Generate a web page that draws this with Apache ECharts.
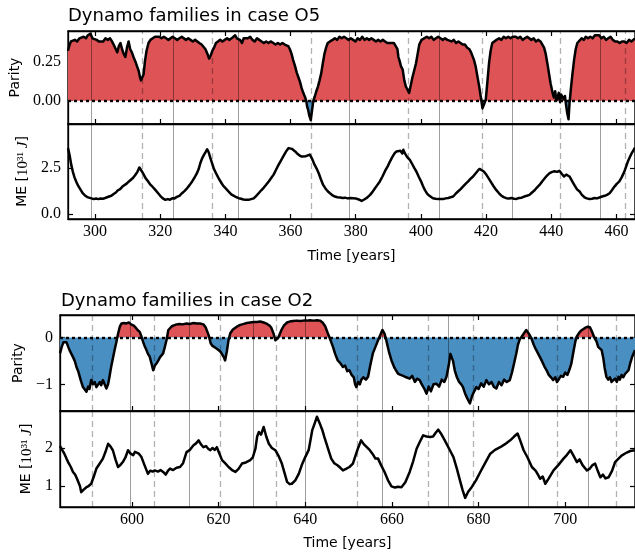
<!DOCTYPE html>
<html>
<head>
<meta charset="utf-8">
<script src="https://cdn.jsdelivr.net/npm/echarts@6/dist/echarts.min.js"></script>
<style>html,body{margin:0;padding:0;background:#fff}#c{width:635px;height:553px}</style>
</head>
<body>
<div id="c"></div>
<script>
// ---------------- DATA ----------------
const titles = ['Dynamo families in case O5', 'Dynamo families in case O2'];

const o5XRange = [291.7, 465.7];
const o2XRange = [583.4, 716.1];
const o5XTicks = [300, 320, 340, 360, 380, 400, 420, 440, 460];
const o2XTicks = [600, 620, 640, 660, 680, 700];

const o5ParityRange = [-0.15, 0.447];
const o5ParityTicks = [0, 0.25];
const o5ParityTickLabels = ['0.00', '0.25'];
const o5MERange = [-0.26, 4.9];
const o5METicks = [0, 2.5];
const o5METickLabels = ['0.0', '2.5'];

const o2ParityRange = [-1.57, 0.48];
const o2ParityTicks = [-1, 0];
const o2ParityTickLabels = ['\u22121', '0'];
const o2MERange = [0.45, 2.97];
const o2METicks = [1, 2];
const o2METickLabels = ['1', '2'];

const o5SolidLines = [298.7, 323.9, 343.8, 377.9, 405.7, 428.1, 454.9];
const o5DashedLines = [314.5, 335.9, 366.4, 396.2, 418.9, 442.9, 462.6];
const o2SolidLines = [599.5, 613.3, 628.1, 640.0, 657.7, 672.9, 691.5, 705.2];
const o2DashedLines = [590.9, 605.1, 620.4, 633.4, 651.9, 668.4, 678.7, 698.1, 711.7];

const o5Parity = [[291.7,0.32],[292.2,0.36],[292.6,0.38],[293.2,0.37],[293.8,0.39],[294.5,0.38],[295.2,0.40],[295.8,0.39],[296.5,0.41],[297.2,0.40],[297.8,0.42],[298.6,0.43],[299.2,0.40],[299.8,0.41],[300.5,0.39],[301.2,0.38],[301.8,0.39],[302.5,0.38],[303.2,0.40],[303.9,0.39],[304.6,0.40],[305.2,0.38],[305.7,0.36],[306.2,0.35],[306.8,0.31],[307.3,0.35],[307.8,0.37],[308.3,0.33],[308.8,0.30],[309.3,0.28],[309.8,0.34],[310.3,0.38],[310.8,0.33],[311.3,0.31],[311.8,0.28],[312.4,0.25],[312.9,0.22],[313.4,0.19],[313.8,0.15],[314.1,0.13],[314.5,0.14],[314.9,0.17],[315.3,0.25],[315.8,0.32],[316.4,0.37],[317.0,0.39],[317.7,0.40],[318.4,0.41],[319.0,0.40],[319.7,0.41],[320.4,0.40],[321.1,0.41],[321.8,0.40],[322.5,0.39],[323.1,0.40],[323.8,0.41],[324.5,0.40],[325.2,0.39],[325.9,0.40],[326.6,0.41],[327.2,0.40],[327.9,0.39],[328.6,0.40],[329.3,0.39],[330.0,0.38],[330.7,0.39],[331.3,0.38],[332.0,0.37],[332.7,0.36],[333.3,0.35],[333.9,0.33],[334.5,0.30],[335.0,0.27],[335.5,0.29],[336.0,0.32],[336.5,0.34],[337.1,0.37],[337.7,0.38],[338.4,0.39],[339.1,0.38],[339.8,0.39],[340.5,0.40],[341.2,0.39],[341.9,0.40],[342.5,0.41],[343.0,0.42],[343.5,0.40],[344.0,0.41],[344.5,0.39],[345.1,0.37],[345.6,0.40],[346.2,0.39],[346.9,0.40],[347.6,0.41],[348.3,0.39],[349.0,0.38],[349.7,0.40],[350.4,0.39],[351.1,0.38],[351.8,0.37],[352.5,0.38],[353.2,0.37],[353.9,0.38],[354.7,0.37],[355.4,0.36],[356.1,0.37],[356.8,0.36],[357.5,0.37],[358.2,0.36],[358.8,0.35],[359.3,0.35],[359.8,0.33],[360.3,0.30],[360.8,0.26],[361.4,0.22],[361.9,0.18],[362.4,0.15],[362.9,0.12],[363.4,0.08],[363.9,0.05],[364.4,0.025],[364.8,0.00],[365.1,-0.04],[365.4,-0.06],[365.8,-0.10],[366.2,-0.125],[366.6,-0.06],[367.0,0.0],[367.4,0.025],[367.9,0.06],[368.4,0.09],[368.9,0.13],[369.4,0.175],[369.9,0.24],[370.4,0.30],[370.9,0.34],[371.4,0.37],[372.1,0.38],[372.9,0.39],[373.6,0.40],[374.3,0.39],[375.0,0.41],[375.7,0.40],[376.4,0.41],[377.1,0.40],[377.8,0.39],[378.5,0.40],[379.2,0.39],[379.9,0.38],[380.6,0.40],[381.3,0.39],[382.0,0.41],[382.7,0.39],[383.4,0.40],[384.1,0.39],[384.8,0.40],[385.5,0.39],[386.2,0.38],[386.9,0.39],[387.6,0.38],[388.3,0.39],[389.0,0.38],[389.7,0.37],[390.3,0.38],[391.0,0.37],[391.7,0.37],[392.3,0.36],[392.8,0.33],[393.1,0.28],[393.4,0.26],[393.9,0.22],[394.4,0.20],[394.9,0.13],[395.4,0.09],[395.9,0.07],[396.4,0.05],[396.9,0.10],[397.4,0.15],[397.9,0.19],[398.5,0.24],[399.0,0.30],[399.5,0.36],[400.2,0.39],[401.0,0.40],[401.8,0.41],[402.5,0.40],[403.2,0.41],[403.9,0.39],[404.6,0.40],[405.3,0.41],[406.0,0.40],[406.7,0.39],[407.4,0.40],[408.1,0.39],[408.7,0.39],[409.4,0.38],[410.1,0.39],[410.8,0.37],[411.5,0.38],[412.1,0.37],[412.8,0.36],[413.5,0.36],[414.2,0.34],[414.9,0.33],[415.4,0.31],[415.8,0.30],[416.3,0.26],[416.8,0.22],[417.3,0.16],[417.9,0.09],[418.4,0.02],[418.9,-0.05],[419.3,-0.04],[419.9,0.005],[420.4,0.12],[420.9,0.24],[421.4,0.32],[421.9,0.37],[422.5,0.38],[423.2,0.39],[424.0,0.40],[424.7,0.39],[425.4,0.41],[426.1,0.40],[426.8,0.41],[427.5,0.40],[428.2,0.41],[429.1,0.41],[429.8,0.40],[430.5,0.41],[431.2,0.39],[431.9,0.40],[432.6,0.41],[433.2,0.40],[433.9,0.39],[434.6,0.40],[435.3,0.38],[436.0,0.39],[436.7,0.38],[437.3,0.37],[437.8,0.34],[438.3,0.30],[438.8,0.24],[439.3,0.175],[439.8,0.11],[440.4,0.05],[440.8,0.02],[441.2,0.06],[441.6,0.00],[441.9,0.015],[442.3,0.05],[442.7,-0.01],[443.0,0.04],[443.4,0.05],[443.8,0.01],[444.2,0.03],[444.5,-0.02],[444.9,-0.08],[445.3,-0.12],[445.6,-0.02],[446.0,0.07],[446.5,0.17],[447.0,0.26],[447.5,0.33],[448.0,0.37],[448.6,0.38],[449.3,0.40],[450.0,0.39],[450.6,0.41],[451.3,0.40],[452.0,0.41],[452.7,0.40],[453.4,0.42],[454.0,0.41],[454.7,0.42],[455.4,0.40],[456.1,0.41],[456.8,0.39],[457.5,0.40],[458.2,0.41],[458.9,0.39],[459.6,0.38],[460.3,0.38],[461.0,0.37],[461.7,0.38],[462.4,0.38],[463.1,0.37],[463.9,0.39],[464.6,0.38],[465.7,0.40]];

const o5ME = [[291.7,3.59],[292.2,3.2],[292.7,2.68],[293.2,2.3],[293.7,2.0],[294.2,1.78],[294.8,1.55],[295.5,1.35],[296.2,1.14],[296.9,1.02],[297.6,0.93],[298.2,0.87],[298.9,0.86],[299.6,0.82],[300.3,0.85],[301.0,0.82],[301.7,0.85],[302.4,0.84],[303.1,0.88],[303.7,0.86],[304.3,0.96],[305.0,1.0],[305.7,1.1],[306.4,1.18],[307.0,1.3],[307.7,1.36],[308.4,1.5],[309.0,1.58],[309.7,1.66],[310.4,1.78],[311.0,1.86],[311.7,1.98],[312.4,2.14],[313.0,2.3],[313.6,2.54],[314.1,2.4],[314.8,2.2],[315.5,1.96],[316.2,1.8],[316.9,1.62],[317.7,1.48],[318.5,1.32],[319.3,1.15],[320.0,1.0],[320.8,0.86],[321.6,0.78],[322.3,0.82],[323.0,0.79],[323.7,0.87],[324.4,0.86],[325.1,0.94],[325.9,1.0],[326.7,1.14],[327.5,1.27],[328.3,1.42],[329.0,1.58],[329.8,1.78],[330.5,1.98],[331.2,2.2],[331.8,2.45],[332.3,2.77],[332.9,3.05],[333.5,3.25],[334.0,3.4],[334.4,3.53],[334.9,3.35],[335.4,3.05],[335.9,2.77],[336.5,2.45],[337.2,2.2],[337.9,1.96],[338.6,1.75],[339.3,1.55],[340.1,1.4],[341.0,1.23],[341.8,1.08],[342.6,1.0],[343.4,0.92],[344.1,0.87],[344.8,0.84],[345.5,0.80],[346.3,0.78],[347.1,0.78],[347.9,0.82],[348.7,0.86],[349.4,0.98],[350.2,1.14],[351.0,1.3],[351.8,1.45],[352.5,1.6],[353.3,1.78],[354.0,1.95],[354.8,2.15],[355.5,2.4],[356.3,2.68],[357.0,2.9],[357.8,3.15],[358.6,3.4],[359.4,3.59],[359.9,3.5],[360.4,3.55],[361.0,3.45],[361.4,3.41],[362.0,3.3],[362.7,3.2],[363.4,3.13],[364.0,3.18],[364.7,3.15],[365.3,3.2],[365.9,3.24],[366.5,3.05],[367.2,2.75],[368.0,2.48],[368.7,2.2],[369.3,1.9],[370.0,1.59],[370.7,1.4],[371.4,1.25],[372.1,1.14],[372.9,1.02],[373.6,0.96],[374.4,0.92],[375.2,0.91],[376.0,0.88],[376.7,0.9],[377.5,0.86],[378.3,0.88],[379.2,0.87],[380.0,0.86],[380.9,0.8],[381.8,0.72],[382.6,0.8],[383.5,0.9],[384.4,1.05],[385.1,1.2],[385.8,1.38],[386.6,1.58],[387.4,1.78],[388.2,2.05],[389.0,2.35],[389.8,2.6],[390.5,2.86],[391.2,3.1],[391.9,3.3],[392.5,3.41],[393.1,3.35],[393.7,3.45],[394.3,3.3],[394.6,3.5],[395.1,3.3],[395.8,3.1],[396.6,2.95],[397.4,2.7],[398.0,2.5],[398.6,2.32],[399.3,2.05],[400.0,1.8],[400.6,1.55],[401.2,1.32],[401.9,1.12],[402.6,1.0],[403.2,0.92],[403.7,0.87],[404.5,0.84],[405.3,0.82],[406.0,0.83],[406.8,0.82],[407.6,0.86],[408.4,0.88],[409.1,0.92],[409.9,0.96],[410.6,1.1],[411.3,1.22],[412.1,1.35],[412.9,1.5],[413.7,1.65],[414.5,1.78],[415.2,1.92],[416.0,2.05],[416.7,2.2],[417.4,2.35],[418.0,2.46],[418.6,2.38],[419.3,2.32],[420.1,2.14],[420.8,1.95],[421.6,1.72],[422.3,1.52],[423.1,1.32],[423.9,1.15],[424.6,1.02],[425.4,0.93],[426.2,0.87],[427.0,0.85],[427.8,0.88],[428.6,0.84],[429.3,0.83],[430.1,0.88],[430.9,0.9],[431.7,0.96],[432.5,1.0],[433.3,1.05],[434.1,1.18],[434.9,1.3],[435.6,1.45],[436.4,1.59],[437.2,1.78],[438.0,1.95],[438.7,2.1],[439.5,2.23],[440.3,2.3],[441.0,2.33],[441.8,2.3],[442.5,2.36],[443.2,2.2],[443.9,2.05],[444.6,2.15],[445.2,2.1],[445.6,2.05],[446.4,1.8],[447.2,1.55],[447.9,1.35],[448.7,1.23],[449.4,1.05],[450.2,0.92],[450.9,0.86],[451.7,0.83],[452.5,0.84],[453.3,0.88],[454.1,0.86],[454.8,0.91],[455.6,0.96],[456.4,1.0],[457.1,1.05],[457.9,1.14],[458.6,1.3],[459.4,1.5],[460.1,1.65],[460.9,1.78],[461.6,2.0],[462.4,2.3],[463.0,2.6],[463.5,2.86],[464.1,3.1],[464.8,3.35],[465.7,3.62]];

const o2Parity = [[583.4,-0.34],[583.8,-0.2],[584.2,-0.1],[584.5,-0.06],[584.9,-0.1],[585.3,-0.2],[585.6,-0.27],[586.0,-0.25],[586.4,-0.42],[586.8,-0.5],[587.2,-0.63],[587.6,-0.72],[588.0,-0.85],[588.3,-0.95],[588.7,-1.06],[589.1,-1.08],[589.5,-1.16],[589.9,-1.05],[590.2,-1.1],[590.6,-0.91],[591.0,-1.0],[591.4,-0.95],[591.8,-1.06],[592.2,-1.1],[592.6,-0.95],[592.9,-1.02],[593.3,-0.91],[593.7,-1.0],[594.1,-1.09],[594.5,-1.0],[594.8,-0.85],[595.2,-0.63],[595.6,-0.45],[596.0,-0.27],[596.4,-0.1],[596.8,0.08],[597.2,0.23],[597.6,0.3],[598.2,0.31],[598.7,0.30],[599.3,0.32],[599.8,0.28],[600.3,0.26],[600.8,0.22],[601.3,0.16],[601.8,0.12],[602.2,0.02],[602.6,-0.1],[603.0,-0.2],[603.4,-0.28],[603.7,-0.35],[604.1,-0.41],[604.5,-0.55],[604.9,-0.7],[605.3,-0.6],[605.7,-0.55],[606.1,-0.49],[606.5,-0.42],[606.8,-0.45],[607.2,-0.34],[607.6,-0.2],[608.0,-0.05],[608.4,0.16],[608.8,0.2],[609.2,0.24],[609.6,0.26],[610.3,0.28],[611.0,0.29],[611.7,0.28],[612.6,0.30],[613.4,0.29],[614.2,0.31],[615.0,0.30],[615.7,0.30],[616.5,0.28],[617.0,0.22],[617.3,0.19],[617.7,0.05],[618.2,-0.13],[618.6,-0.18],[619.0,-0.2],[619.6,-0.24],[620.0,-0.27],[620.4,-0.3],[620.8,-0.34],[621.2,-0.42],[621.5,-0.49],[621.9,-0.3],[622.3,-0.05],[622.7,0.09],[623.3,0.17],[624.2,0.23],[625.0,0.27],[625.8,0.29],[626.5,0.31],[627.3,0.32],[628.1,0.33],[628.9,0.33],[629.6,0.34],[630.4,0.32],[631.2,0.29],[631.8,0.25],[632.2,0.2],[632.7,0.08],[633.1,-0.06],[633.4,-0.09],[633.8,0.0],[634.5,0.16],[635.1,0.26],[635.8,0.32],[636.4,0.34],[637.2,0.35],[638.0,0.36],[638.8,0.35],[639.6,0.36],[640.3,0.36],[641.1,0.37],[641.9,0.36],[642.7,0.37],[643.4,0.36],[644.0,0.32],[644.6,0.24],[645.2,0.09],[645.8,-0.05],[646.4,-0.2],[646.9,-0.35],[647.5,-0.49],[648.1,-0.55],[648.7,-0.63],[649.2,-0.6],[649.7,-0.72],[650.2,-0.7],[650.7,-0.8],[651.2,-0.85],[651.5,-1.0],[651.8,-1.06],[652.2,-0.95],[652.6,-1.0],[652.9,-0.91],[653.4,-0.85],[654.0,-0.9],[654.5,-0.84],[655.0,-0.6],[655.6,-0.34],[656.2,-0.2],[656.8,-0.06],[657.3,0.05],[657.8,0.16],[658.3,0.08],[658.7,-0.06],[659.3,-0.3],[659.9,-0.49],[660.6,-0.65],[661.4,-0.77],[662.0,-0.8],[662.6,-0.82],[663.3,-0.85],[664.1,-0.88],[664.7,-0.82],[665.3,-0.95],[665.8,-0.88],[666.4,-0.91],[666.9,-1.0],[667.5,-1.1],[668.0,-1.2],[668.5,-1.05],[669.0,-1.15],[669.6,-1.0],[670.3,-0.99],[670.9,-1.05],[671.5,-0.9],[672.1,-0.95],[672.6,-0.84],[673.1,-0.6],[673.5,-0.35],[673.7,-0.31],[674.1,-0.5],[674.5,-0.7],[675.0,-0.85],[675.5,-0.95],[676.0,-1.0],[676.4,-1.06],[676.9,-1.2],[677.4,-1.3],[678.0,-1.41],[678.5,-1.25],[679.0,-1.15],[679.5,-1.06],[680.0,-1.1],[680.6,-0.98],[681.2,-1.05],[681.8,-0.91],[682.4,-1.0],[683.0,-0.95],[683.5,-1.05],[684.1,-1.09],[684.7,-0.95],[685.3,-1.02],[685.9,-0.9],[686.5,-0.95],[687.2,-0.91],[687.7,-0.75],[688.2,-0.55],[688.7,-0.34],[689.1,-0.15],[689.5,-0.04],[689.9,0.01],[690.4,0.08],[691.0,0.16],[691.6,0.08],[692.2,-0.02],[692.7,-0.15],[693.2,-0.25],[694.1,-0.41],[694.6,-0.5],[695.2,-0.62],[695.7,-0.7],[696.2,-0.8],[696.7,-0.85],[697.2,-0.91],[697.7,-0.85],[698.1,-0.95],[698.6,-0.88],[699.0,-0.82],[699.5,-0.84],[700.0,-0.75],[700.5,-0.8],[701.0,-0.68],[701.4,-0.56],[701.9,-0.3],[702.3,-0.1],[702.6,0.01],[703.2,0.1],[703.7,0.15],[704.1,0.19],[704.7,0.21],[705.2,0.23],[705.7,0.22],[706.2,0.12],[706.8,-0.02],[707.2,-0.08],[707.6,-0.2],[708.0,-0.22],[708.4,-0.27],[708.8,-0.45],[709.1,-0.65],[709.5,-0.84],[709.9,-0.9],[710.3,-0.85],[710.7,-0.95],[711.1,-0.99],[711.5,-0.88],[711.9,-0.95],[712.3,-0.84],[712.6,-0.9],[713.0,-0.8],[713.4,-0.85],[713.8,-0.78],[714.2,-0.77],[714.6,-0.7],[715.0,-0.55],[715.5,-0.4],[716.1,-0.27]];

const o2ME = [[583.4,2.05],[583.9,1.95],[584.4,1.85],[584.9,1.72],[585.4,1.6],[585.9,1.5],[586.4,1.37],[586.9,1.3],[587.3,1.2],[587.6,1.15],[588.0,1.0],[588.3,0.84],[588.8,0.9],[589.2,0.95],[589.5,0.97],[590.0,1.0],[590.6,1.06],[591.2,1.25],[591.8,1.46],[592.5,1.58],[593.3,1.72],[593.9,1.9],[594.5,2.11],[595.0,2.05],[595.6,1.94],[596.2,1.7],[596.8,1.5],[597.3,1.55],[597.9,1.63],[598.5,1.75],[599.1,1.94],[599.7,1.85],[600.3,1.81],[600.7,1.9],[601.0,1.94],[601.6,1.85],[602.2,1.76],[602.9,1.55],[603.7,1.32],[604.2,1.4],[604.8,1.38],[605.3,1.41],[606.0,1.38],[606.6,1.42],[607.2,1.37],[607.8,1.3],[608.3,1.4],[608.8,1.46],[609.5,1.42],[610.3,1.48],[611.1,1.5],[611.8,1.6],[612.6,1.89],[613.4,1.95],[614.2,2.07],[614.8,2.12],[615.4,2.2],[615.9,2.1],[616.5,2.02],[617.1,2.05],[617.6,1.98],[618.1,1.94],[618.6,2.0],[619.1,1.95],[619.6,2.02],[620.2,1.85],[620.8,1.68],[621.5,1.6],[622.3,1.5],[623.1,1.42],[623.9,1.37],[624.6,1.45],[625.4,1.59],[626.3,1.62],[627.3,1.68],[627.9,1.75],[628.5,1.98],[628.9,2.3],[629.3,2.42],[629.8,2.35],[630.4,2.55],[631.0,2.3],[631.6,2.11],[632.3,2.0],[633.1,1.94],[633.8,1.8],[634.6,1.59],[635.2,1.35],[635.8,1.11],[636.4,1.05],[636.9,1.06],[637.7,1.15],[638.5,1.32],[639.2,1.55],[640.0,1.76],[640.8,1.95],[641.2,2.2],[641.6,2.46],[642.2,2.65],[642.7,2.82],[643.0,2.85],[643.5,2.6],[644.0,2.45],[644.4,2.29],[645.2,2.0],[646.0,1.72],[646.7,1.6],[647.5,1.54],[648.1,1.48],[648.7,1.41],[649.4,1.45],[650.2,1.5],[651.0,1.59],[651.6,1.8],[652.2,2.0],[652.9,2.2],[653.5,2.1],[654.2,2.02],[654.9,1.94],[655.5,1.85],[656.2,1.72],[656.8,1.72],[657.5,1.55],[658.3,1.37],[659.1,1.15],[659.9,0.99],[660.7,0.96],[661.4,0.98],[662.2,0.97],[663.1,1.1],[664.1,1.37],[664.9,1.65],[665.7,1.98],[666.4,2.15],[667.2,2.33],[668.0,2.3],[668.8,2.29],[669.5,2.3],[670.1,2.4],[670.7,2.48],[671.3,2.38],[672.2,2.2],[673.2,1.98],[674.2,1.76],[675.0,1.45],[675.7,1.15],[676.3,0.9],[676.9,0.69],[677.6,0.85],[678.4,0.97],[679.4,1.15],[680.4,1.37],[681.5,1.6],[682.7,1.85],[683.8,1.95],[685.0,2.02],[686.1,2.1],[687.3,2.2],[688.2,2.3],[689.0,2.38],[689.6,2.2],[690.4,1.94],[691.3,1.75],[692.3,1.5],[693.2,1.4],[693.8,1.28],[694.2,1.19],[694.8,1.25],[695.4,1.06],[696.2,1.2],[697.3,1.41],[698.4,1.55],[699.6,1.72],[700.4,1.82],[701.2,1.94],[701.9,1.8],[702.7,1.63],[703.3,1.7],[704.0,1.55],[705.0,1.41],[705.6,1.45],[706.3,1.55],[706.9,1.59],[707.5,1.4],[708.1,1.23],[708.7,1.3],[709.3,1.2],[710.0,1.23],[710.8,1.4],[711.5,1.63],[712.3,1.72],[713.0,1.8],[713.4,1.85],[714.2,1.88],[715.0,1.92],[716.1,1.94]];

// ---------------- STYLE ----------------
const SANS = 'DejaVu Sans';
const SERIF = 'Liberation Serif';
const RED = '#de5356';
const BLUE = '#4a8fc2';
const GRIDS = [
  {left: 68, top: 31, right: -1, height: 93},
  {left: 68, top: 124, right: -1, height: 95},
  {left: 60, top: 315, right: -1, height: 96},
  {left: 60, top: 411, right: -1, height: 96}
];

function labelFor(vals, labels) {
  return function (v) {
    for (let i = 0; i < vals.length; i++) if (Math.abs(vals[i] - v) < 1e-9) return labels[i];
    return '';
  };
}

function xAx(grid, range, ticks, position, showLabels, name, nameGap) {
  return {
    type: 'value', gridIndex: grid, position: position, min: range[0], max: range[1],
    splitLine: {show: false},
    axisLine: {show: true, onZero: false, lineStyle: {color: '#000', width: 1.3}},
    axisTick: {show: true, inside: true, length: 5, customValues: ticks, lineStyle: {color: '#000', width: 1.2}},
    axisLabel: {show: showLabels, customValues: ticks, margin: 5, color: '#000',
      fontFamily: SERIF, fontSize: 16},
    name: name || '', nameLocation: 'middle', nameGap: nameGap || 0,
    nameTextStyle: {fontFamily: SANS, fontSize: 14, color: '#000'}
  };
}

function yAx(grid, range, ticks, labels, position, name, nameGap) {
  const left = position === 'left';
  return {
    type: 'value', gridIndex: grid, position: position, min: range[0], max: range[1],
    splitLine: {show: false},
    axisLine: {show: true, onZero: false, lineStyle: {color: '#000', width: 1.3}},
    axisTick: {show: true, inside: true, length: 5, customValues: ticks, lineStyle: {color: '#000', width: 1.2}},
    axisLabel: {show: left, customValues: ticks, margin: 7, color: '#000',
      fontFamily: SERIF, fontSize: 16, formatter: labelFor(ticks, labels)},
    name: left ? name : '', nameLocation: 'middle', nameRotate: 90, nameGap: nameGap || 0,
    nameTextStyle: {
      fontFamily: SANS, fontSize: 14, color: '#000',
      rich: {
        s: {fontFamily: SANS, fontSize: 14, color: '#000'},
        m: {fontFamily: SERIF, fontSize: 15, color: '#000'},
        j: {fontFamily: SERIF, fontSize: 15, fontStyle: 'italic', color: '#000'}
      }
    }
  };
}

const meName = '{s|ME [}{m|10\u00b3\u00b9 }{j|J}{s|]}';

function vLines(solid, dashed, withZero) {
  const d = [];
  solid.forEach(v => d.push({xAxis: v, lineStyle: {type: 'solid', color: 'rgba(0,0,0,0.38)', width: 1}}));
  dashed.forEach(v => d.push({xAxis: v, lineStyle: {type: [6, 4], color: 'rgba(0,0,0,0.3)', width: 1.3}}));
  if (withZero) d.push({yAxis: 0, lineStyle: {type: [3, 3], color: '#000', width: 2.4}});
  return {silent: true, symbol: ['none', 'none'], label: {show: false}, z: 5, animation: false, data: d};
}

function areaSeries(xi, yi, data, solid, dashed) {
  return {
    type: 'line', xAxisIndex: xi, yAxisIndex: yi, data: data, showSymbol: false, symbol: 'none',
    lineStyle: {width: 0}, areaStyle: {opacity: 1, origin: 0}, z: 2, silent: true,
    markLine: vLines(solid, dashed, true)
  };
}
function blackLine(xi, yi, data, solid, dashed) {
  const s = {
    type: 'line', xAxisIndex: xi, yAxisIndex: yi, data: data, showSymbol: false, symbol: 'none',
    lineStyle: {width: 2.5, color: '#000', join: 'round'}, itemStyle: {color: '#000'}, z: 10, silent: true
  };
  if (solid) s.markLine = vLines(solid, dashed, false);
  return s;
}

const option = {
  animation: false,
  backgroundColor: '#fff',
  title: [
    {text: titles[0], left: 63, top: 2, textStyle: {fontFamily: SANS, fontSize: 18, fontWeight: 'normal', color: '#000'}},
    {text: titles[1], left: 56, top: 287, textStyle: {fontFamily: SANS, fontSize: 18, fontWeight: 'normal', color: '#000'}}
  ],
  grid: GRIDS.map(g => Object.assign({show: true, borderColor: '#000', borderWidth: 1.3, containLabel: false}, g)),
  xAxis: [
    xAx(0, o5XRange, o5XTicks, 'bottom', false),
    xAx(0, o5XRange, o5XTicks, 'top', false),
    xAx(1, o5XRange, o5XTicks, 'bottom', true, 'Time [years]', 30),
    xAx(2, o2XRange, o2XTicks, 'bottom', false),
    xAx(2, o2XRange, o2XTicks, 'top', false),
    xAx(3, o2XRange, o2XTicks, 'bottom', true, 'Time [years]', 29)
  ],
  yAxis: [
    yAx(0, o5ParityRange, o5ParityTicks, o5ParityTickLabels, 'left', 'Parity', 42),
    yAx(0, o5ParityRange, o5ParityTicks, o5ParityTickLabels, 'right'),
    yAx(1, o5MERange, o5METicks, o5METickLabels, 'left', meName, 28),
    yAx(1, o5MERange, o5METicks, o5METickLabels, 'right'),
    yAx(2, o2ParityRange, o2ParityTicks, o2ParityTickLabels, 'left', 'Parity', 34),
    yAx(2, o2ParityRange, o2ParityTicks, o2ParityTickLabels, 'right'),
    yAx(3, o2MERange, o2METicks, o2METickLabels, 'left', meName, 20),
    yAx(3, o2MERange, o2METicks, o2METickLabels, 'right')
  ],
  visualMap: {
    type: 'piecewise', show: false, seriesIndex: [0, 3], dimension: 1,
    pieces: [{gte: -3, lt: 0, color: BLUE}, {gte: 0, lte: 3, color: RED}],
    outOfRange: {color: BLUE}
  },
  series: [
    areaSeries(0, 0, o5Parity, o5SolidLines, o5DashedLines),
    blackLine(0, 0, o5Parity),
    blackLine(2, 2, o5ME, o5SolidLines, o5DashedLines),
    areaSeries(3, 4, o2Parity, o2SolidLines, o2DashedLines),
    blackLine(3, 4, o2Parity),
    blackLine(5, 6, o2ME, o2SolidLines, o2DashedLines)
  ]
};

const chart = echarts.init(document.getElementById('c'), null, {renderer: 'canvas'});
chart.setOption(option);
</script>
</body>
</html>
